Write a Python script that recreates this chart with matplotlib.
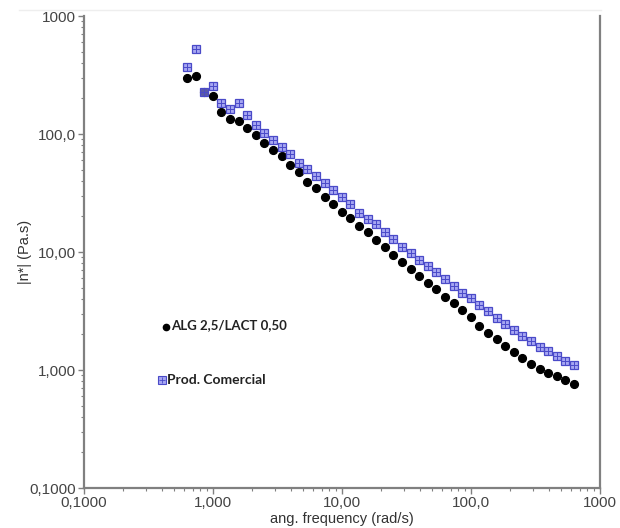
import numpy as np
import matplotlib
matplotlib.use('Agg')
import matplotlib.pyplot as plt
from matplotlib.lines import Line2D

freq = [0.628, 0.732, 0.854, 0.995, 1.16, 1.35, 1.58, 1.84, 2.14, 2.50,
        2.91, 3.40, 3.96, 4.62, 5.39, 6.28, 7.32, 8.54, 9.95, 11.6,
        13.5, 15.8, 18.4, 21.4, 25.0, 29.1, 34.0, 39.6, 46.2, 53.9,
        62.8, 73.2, 85.4, 99.5, 116, 135, 158, 184, 214, 250,
        291, 340, 396, 462, 539, 628]

# |eta*| (Pa.s)
eta_alg = [298, 310, 227, 210, 154, 134, 129, 112, 98.1, 83.9,
           73.2, 65.1, 54.6, 47.6, 39.2, 34.9, 29.3, 25.5, 21.8, 19.4,
           16.6, 14.8, 12.6, 11.0, 9.43, 8.22, 7.18, 6.26, 5.46, 4.86,
           4.16, 3.70, 3.22, 2.81, 2.36, 2.06, 1.83, 1.60, 1.42, 1.26,
           1.12, 1.02, 0.944, 0.889, 0.822, 0.760]

eta_com = [370, 525, 227, 255, 183, 163, 183, 145, 119, 102,
           88.9, 77.6, 67.7, 56.8, 50.5, 44.1, 38.5, 33.5, 29.3, 25.5,
           21.4, 19.0, 17.3, 14.8, 12.9, 11.0, 9.81, 8.56, 7.61, 6.77,
           5.91, 5.15, 4.50, 4.07, 3.56, 3.16, 2.76, 2.45, 2.18, 1.94,
           1.76, 1.57, 1.45, 1.31, 1.19, 1.10]

xtick_vals = [0.1, 1, 10, 100, 1000]
xtick_labels = ['0,1000', '1,000', '10,00', '100,0', '1000']
ytick_vals = [0.1, 1, 10, 100, 1000]
ytick_labels = ['0,1000', '1,000', '10,00', '100,0', '1000']

plt.rcParams['font.family'] = ['Liberation Sans', 'DejaVu Sans']

fig = plt.figure(figsize=(6.2, 5.28), dpi=100)
ax = fig.add_axes([84/620, 40/528, 516/620, 472/528])

blue_face = (0.5, 0.5, 0.93, 0.7)
blue_edge = '#4a4ac8'

ax.plot(freq, eta_alg, 'o', color='black', markersize=5.6, zorder=3)
ax.plot(freq, eta_com, 's', markerfacecolor=blue_face, markeredgecolor=blue_edge,
        markeredgewidth=0.9, markersize=6, zorder=4)
ax.plot(freq, eta_com, '+', color=blue_edge, markersize=5.5, markeredgewidth=0.7, zorder=5)

ax.set_xscale('log')
ax.set_yscale('log')
ax.set_xlim(0.1, 1000)
ax.set_ylim(0.1, 1000)
ax.set_xticks(xtick_vals)
ax.set_xticklabels(xtick_labels)
ax.set_yticks(ytick_vals)
ax.set_yticklabels(ytick_labels)

gray = '#808080'
for side in ['left', 'bottom', 'right']:
    ax.spines[side].set_color(gray)
    ax.spines[side].set_linewidth(1.6)
ax.spines['top'].set_visible(False)

ax.tick_params(which='major', direction='out', length=4, width=1, color=gray,
               labelsize=11, labelcolor='#444444', pad=2)
ax.tick_params(which='minor', direction='out', length=2.5, width=0.8, color=gray)
ax.tick_params(axis='y', right=False, which='both')

ax.set_xlabel('ang. frequency (rad/s)', fontsize=10.5, color='#333333', labelpad=1)
ax.set_ylabel('|n*| (Pa.s)', fontsize=10.5, color='#333333', labelpad=-2)

# hand-drawn legend as in the original
ax.plot([0.43], [2.33], 'o', color='black', markersize=4.5)
ax.text(0.475, 2.4, 'ALG 2,5/LACT 0,50', fontsize=9.5, fontweight='bold',
        family=['Lato', 'DejaVu Sans'], color='#222222', va='center')
ax.plot([0.405], [0.815], 's', markerfacecolor=blue_face, markeredgecolor=blue_edge,
        markersize=5.5, markeredgewidth=0.8)
ax.plot([0.405], [0.815], '+', color=blue_edge, markersize=5, markeredgewidth=0.6)
ax.text(0.44, 0.83, 'Prod. Comercial', fontsize=10, fontweight='bold',
        family=['Lato', 'DejaVu Sans'], color='#222222', va='center')

fig.add_artist(Line2D([0.03, 0.97], [1 - 10/528, 1 - 10/528], color='#eeeeee', lw=1))

fig.savefig('out.png', dpi=100)
